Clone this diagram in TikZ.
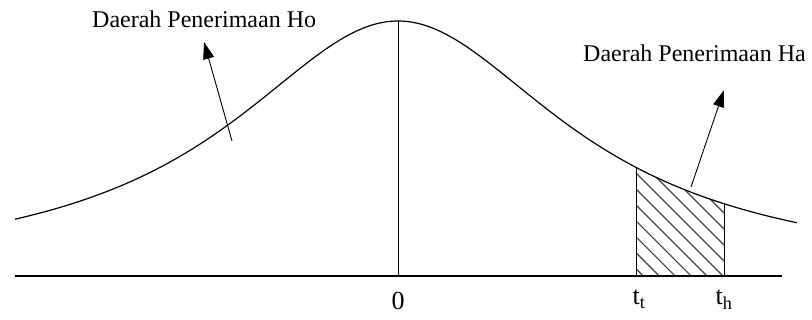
\documentclass[tikz,border=0pt]{standalone}
\usepackage{fontspec}
\setmainfont{Liberation Serif}
\usetikzlibrary{arrows.meta,patterns.meta}

\begin{document}
\begin{tikzpicture}[
  x=1pt, y=-1pt,
  declare function={dens(\t)=276-255/(1+((\t-398)/205)^2);},
  curve/.style={line width=1.2pt},
  axis/.style={line width=1.3pt},
  edge/.style={line width=0.9pt},
  hatch/.style={pattern={Lines[angle=-45, distance=11.3pt, line width=1.2pt]},
               pattern color=black!75},
  ptr/.style={-{Triangle[length=17pt, width=11pt]}, line width=0.9pt},
  lbl/.style={font=\fontsize{24}{26}\selectfont, anchor=base west, inner sep=0pt},
  tick/.style={font=\fontsize{26}{28}\selectfont, anchor=base, inner sep=0pt},
  ]
  \useasboundingbox (0,0) rectangle (812,320);
  % points on the curve and the axis
  \coordinate (left) at (15,276);
  \coordinate (right) at (782,276);
  \coordinate (peak) at (398,21);
  \coordinate (origin) at (398,276);
  \coordinate (ttBase) at (636,276);
  \coordinate (ttTop) at (636,{dens(636)});
  \coordinate (thBase) at (724,276);
  \coordinate (thTop) at (724,{dens(724)});
  \coordinate (hoTail) at (232,141);
  \coordinate (hoTip) at (204,42);
  \coordinate (haTail) at (691,187);
  \coordinate (haTip) at (724,90);
  % rejection area
  \fill[hatch] (ttBase) -- plot[domain=636:724, samples=30] (\x,{dens(\x)}) -- (thBase) -- cycle;
  \draw[edge] (ttBase) -- (ttTop);
  \draw[edge] (thBase) -- (thTop);
  % curve and axis
  \draw[curve] plot[domain=15:797, samples=160, smooth] (\x,{dens(\x)});
  \draw[axis] (left) -- (right);
  \draw[edge] (origin) -- (peak);
  % labels
  \node[lbl] (hoLbl) at (92,28) {Daerah Penerimaan Ho};
  \node[lbl] (haLbl) at (583,62) {Daerah Penerimaan Ha};
  \draw[ptr] (hoTail) -- (hoTip);
  \draw[ptr] (haTail) -- (haTip);
  \node[tick] (zero) at (398,310) {0};
  \node[tick] (tt) at (639,305) {t\textsubscript{t}};
  \node[tick] (th) at (724,305) {t\textsubscript{h}};
\end{tikzpicture}
\end{document}
